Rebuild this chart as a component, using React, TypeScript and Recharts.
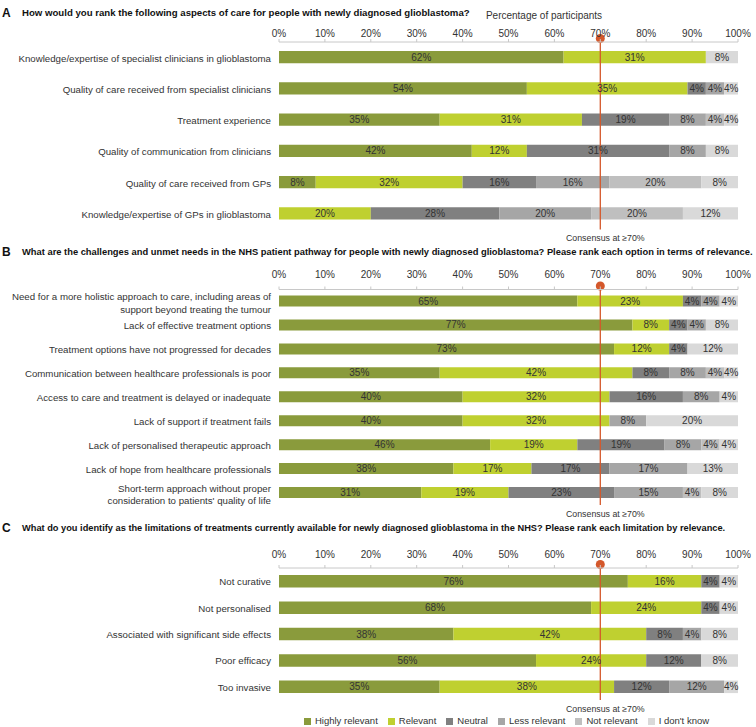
import { BarChart, Bar, XAxis, YAxis, ReferenceLine, LabelList, Legend } from "recharts";

// ---- data (percentages of participants) ----
const aLabels = [
  "Knowledge/expertise of specialist clinicians in glioblastoma",
  "Quality of care received from specialist clinicians",
  "Treatment experience",
  "Quality of communication from clinicians",
  "Quality of care received from GPs",
  "Knowledge/expertise of GPs in glioblastoma",
];
const aHighly = [62, 54, 35, 42, 8, 0];
const aRelevant = [31, 35, 31, 12, 32, 20];
const aNeutral = [0, 4, 19, 31, 16, 28];
const aLess = [0, 4, 8, 8, 16, 20];
const aNot = [0, 0, 4, 0, 20, 20];
const aDontKnow = [8, 4, 4, 8, 8, 12];

const bLabels = [
  "Need for a more holistic approach to care, including areas of\nsupport beyond treating the tumour",
  "Lack of effective treatment options",
  "Treatment options have not progressed for decades",
  "Communication between healthcare professionals is poor",
  "Access to care and treatment is delayed or inadequate",
  "Lack of support if treatment fails",
  "Lack of personalised therapeutic approach",
  "Lack of hope from healthcare professionals",
  "Short-term approach without proper\nconsideration to patients' quality of life",
];
const bHighly = [65, 77, 73, 35, 40, 40, 46, 38, 31];
const bRelevant = [23, 8, 12, 42, 32, 32, 19, 17, 19];
const bNeutral = [4, 4, 4, 8, 16, 0, 19, 17, 23];
const bLess = [4, 4, 0, 8, 8, 8, 8, 17, 15];
const bNot = [0, 0, 0, 4, 0, 0, 4, 0, 4];
const bDontKnow = [4, 8, 12, 4, 4, 20, 4, 13, 8];

const cLabels = [
  "Not curative",
  "Not personalised",
  "Associated with significant side effects",
  "Poor efficacy",
  "Too invasive",
];
const cHighly = [76, 68, 38, 56, 35];
const cRelevant = [16, 24, 42, 24, 38];
const cNeutral = [4, 4, 8, 12, 12];
const cLess = [0, 0, 4, 0, 12];
const cNot = [0, 0, 0, 0, 0];
const cDontKnow = [4, 4, 8, 8, 4];

const xTicks = [0, 10, 20, 30, 40, 50, 60, 70, 80, 90, 100];
const CONSENSUS = 70;

const SERIES = [
  { key: "hr", name: "Highly relevant", color: "#8a9b3c" },
  { key: "rel", name: "Relevant", color: "#bfd030" },
  { key: "neu", name: "Neutral", color: "#808080" },
  { key: "less", name: "Less relevant", color: "#a6a6a6" },
  { key: "not", name: "Not relevant", color: "#bfbfbf" },
  { key: "dk", name: "I don't know", color: "#d9d9d9" },
];

const RED = "#d4582b";
const TEXT = "#333";
const FONT = '"Liberation Sans", Arial, Helvetica, sans-serif';

function buildRows(labels: string[], cols: number[][]) {
  return labels.map((label, i) => ({
    label,
    hr: cols[0][i],
    rel: cols[1][i],
    neu: cols[2][i],
    less: cols[3][i],
    not: cols[4][i],
    dk: cols[5][i],
  }));
}

const rowsA = buildRows(aLabels, [aHighly, aRelevant, aNeutral, aLess, aNot, aDontKnow]);
const rowsB = buildRows(bLabels, [bHighly, bRelevant, bNeutral, bLess, bNot, bDontKnow]);
const rowsC = buildRows(cLabels, [cHighly, cRelevant, cNeutral, cLess, cNot, cDontKnow]);

function CategoryTick(props: any) {
  const { x, y, payload } = props;
  const lines = String(payload.value).split("\n");
  const lh = 12.7;
  const start = y - ((lines.length - 1) * lh) / 2 + (lines.length > 1 ? 1 : 0);
  return (
    <text x={x} y={start} textAnchor="end" fontSize={9.7} fill={TEXT} dominantBaseline="central">
      {lines.map((l, i) => (
        <tspan key={i} x={x} y={start + i * lh}>
          {l}
        </tspan>
      ))}
    </text>
  );
}

function consensusLabel(props: any) {
  const { x, y, height } = props.viewBox;
  return (
    <g>
      <circle cx={x} cy={y - 3.5} r={4.5} fill={RED} />
      <text x={x + 5} y={y + height + 11.5} textAnchor="middle" fontSize={8.8} fill={TEXT}>
        Consensus at ≥70%
      </text>
    </g>
  );
}

const legendOrder = (item: any) => SERIES.findIndex((s) => s.name === item.value);

type PanelProps = {
  rows: any[];
  top: number;
  height: number;
  marginTop: number;
  marginBottom: number;
  tickMargin: number;
  barSize: number;
  legend?: boolean;
};

function Panel({ rows, top, height, marginTop, marginBottom, tickMargin, barSize, legend }: PanelProps) {
  return (
    <div style={{ position: "absolute", left: 0, top }}>
      <BarChart
        width={756}
        height={height}
        data={rows}
        layout="vertical"
        barCategoryGap={0}
        margin={{ top: marginTop, right: 18, bottom: marginBottom, left: 0 }}
      >
        <XAxis
          type="number"
          orientation="top"
          domain={[0, 100]}
          allowDataOverflow
          ticks={xTicks}
          interval={0}
          tickFormatter={(v) => `${v}%`}
          height={20}
          tickSize={3}
          tickMargin={tickMargin}
          axisLine={{ stroke: "#c8c8c8" }}
          tickLine={{ stroke: "#c8c8c8" }}
          tick={{ fill: TEXT, fontSize: 10 }}
        />
        <YAxis
          type="category"
          dataKey="label"
          width={279}
          interval={0}
          axisLine={false}
          tickLine={false}
          tick={<CategoryTick />}
        />
        {SERIES.map((s) => (
          <Bar
            key={s.key}
            dataKey={s.key}
            name={s.name}
            stackId="a"
            fill={s.color}
            barSize={barSize}
            isAnimationActive={false}
          >
            <LabelList
              dataKey={s.key}
              position="center"
              fill={TEXT}
              fontSize={10}
              formatter={(v: any) => (v ? `${v}%` : "")}
            />
          </Bar>
        ))}
        <ReferenceLine x={CONSENSUS} stroke={RED} strokeWidth={1.3} label={consensusLabel} />
        {legend && (
          <Legend
            verticalAlign="bottom"
            iconType="square"
            iconSize={7}
            itemSorter={legendOrder}
            wrapperStyle={{ top: 193.7, left: 279, width: 465, height: 14, lineHeight: "14px", fontSize: 9.5 }}
            formatter={(value) => <span style={{ color: TEXT }}>{value}</span>}
          />
        )}
      </BarChart>
    </div>
  );
}

const titleStyle = (top: number, size: number): React.CSSProperties => ({
  position: "absolute",
  left: 22,
  top: top - 5,
  fontSize: size,
  lineHeight: "10px",
  fontWeight: "bold",
  color: "#111",
  whiteSpace: "nowrap",
});
const letterStyle = (top: number): React.CSSProperties => ({
  position: "absolute",
  left: 2,
  top: top - 7,
  fontSize: 12,
  lineHeight: "14px",
  fontWeight: "bold",
  color: "#111",
});

export default function App() {
  return (
    <div
      style={{
        position: "absolute",
        left: 0,
        top: 0,
        width: 756,
        height: 727,
        background: "#fff",
        fontFamily: FONT,
        overflow: "hidden",
      }}
    >
      <div style={letterStyle(12.5)}>A</div>
      <div style={titleStyle(12.5, 9.65)}>
        How would you rank the following aspects of care for people with newly diagnosed glioblastoma?
      </div>
      <div
        style={{
          position: "absolute",
          left: 444,
          width: 200,
          top: 10,
          fontSize: 10,
          lineHeight: "11px",
          color: TEXT,
          textAlign: "center",
        }}
      >
        Percentage of participants
      </div>

      <div style={letterStyle(251.5)}>B</div>
      <div style={titleStyle(251.5, 9.35)}>
        What are the challenges and unmet needs in the NHS patient pathway for people with newly diagnosed
        glioblastoma? Please rank each option in terms of relevance.
      </div>

      <div style={letterStyle(527.5)}>C</div>
      <div style={titleStyle(527.5, 9.25)}>
        What do you identify as the limitations of treatments currently available for newly diagnosed glioblastoma
        in the NHS? Please rank each limitation by relevance.
      </div>

      <Panel rows={rowsA} top={0} height={245} marginTop={22} marginBottom={15.5} tickMargin={2.5} barSize={12.3} />
      <Panel rows={rowsB} top={245} height={275} marginTop={24.5} marginBottom={15} tickMargin={8.7} barSize={11} />
      <Panel rows={rowsC} top={520} height={207} marginTop={28} marginBottom={13} tickMargin={7.3} barSize={12.5} legend />
    </div>
  );
}
